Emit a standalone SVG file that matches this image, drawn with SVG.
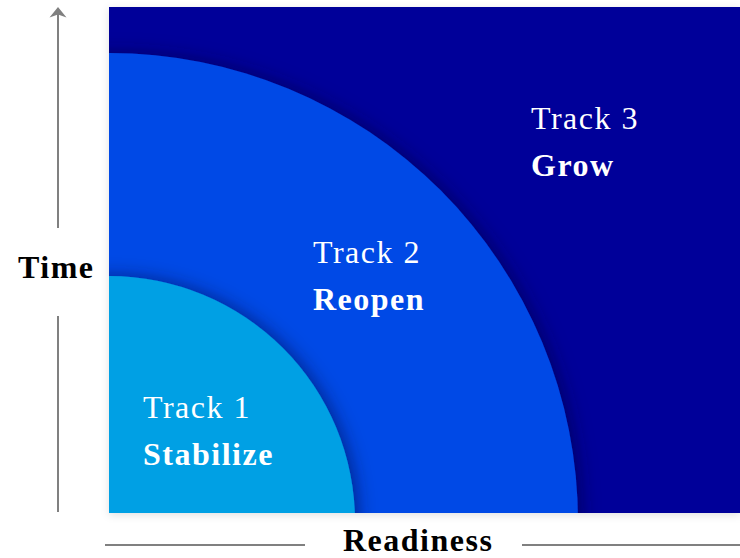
<svg xmlns="http://www.w3.org/2000/svg" width="740" height="558" viewBox="0 0 740 558">
  <style>
    .t { font-family: "Liberation Serif", "DejaVu Serif", serif; font-size: 32px; letter-spacing: 1.5px; }
    .lbl { fill: #ffffff; }
    .b { font-weight: bold; }
    .ax { fill: #000000; font-weight: bold; }
    .axis { stroke: #808080; stroke-width: 2; fill: none; }
    .head { fill: #808080; }
  </style>
  <defs>
    <clipPath id="clip">
      <rect x="109" y="7" width="631" height="506"/>
    </clipPath>
    <filter id="sh" x="-20%" y="-20%" width="140%" height="140%">
      <feDropShadow dx="3" dy="0" stdDeviation="9" flood-color="#000030" flood-opacity="0.5"/>
    </filter>
    <filter id="rsh" x="-5%" y="-5%" width="110%" height="115%">
      <feDropShadow dx="0" dy="2" stdDeviation="4" flood-color="#000000" flood-opacity="0.12"/>
    </filter>
  </defs>

  <g id="track3">
    <rect x="109" y="7" width="631" height="506" fill="#000099" filter="url(#rsh)"/>
  </g>
  <g clip-path="url(#clip)">
    <g id="track2">
      <circle cx="109" cy="522" r="469" fill="#004ae6" filter="url(#sh)"/>
    </g>
    <g id="track1">
      <circle cx="109" cy="522" r="246" fill="#00a0e4" filter="url(#sh)"/>
    </g>
  </g>

  <g id="labels">
    <text class="t lbl" x="531" y="129">Track 3</text>
    <text class="t lbl b" x="531" y="176">Grow</text>
    <text class="t lbl" x="313" y="263">Track 2</text>
    <text class="t lbl b" x="313" y="310">Reopen</text>
    <text class="t lbl" x="143" y="418">Track 1</text>
    <text class="t lbl b" x="143" y="465">Stabilize</text>
  </g>

  <g id="connectors">
    <line class="axis" x1="58" y1="228" x2="58" y2="12"/>
    <path class="head" d="M58,7 L66.5,17.5 L58,14.5 L49.5,17.5 Z"/>
    <line class="axis" x1="58" y1="316" x2="58" y2="512"/>
    <line class="axis" x1="105" y1="545" x2="305" y2="545"/>
    <line class="axis" x1="522" y1="545" x2="740" y2="545"/>
  </g>

  <g id="axis-time">
    <text class="t ax" x="18" y="278">Time</text>
  </g>
  <g id="axis-readiness">
    <text class="t ax" x="343" y="551">Readiness</text>
  </g>
</svg>
